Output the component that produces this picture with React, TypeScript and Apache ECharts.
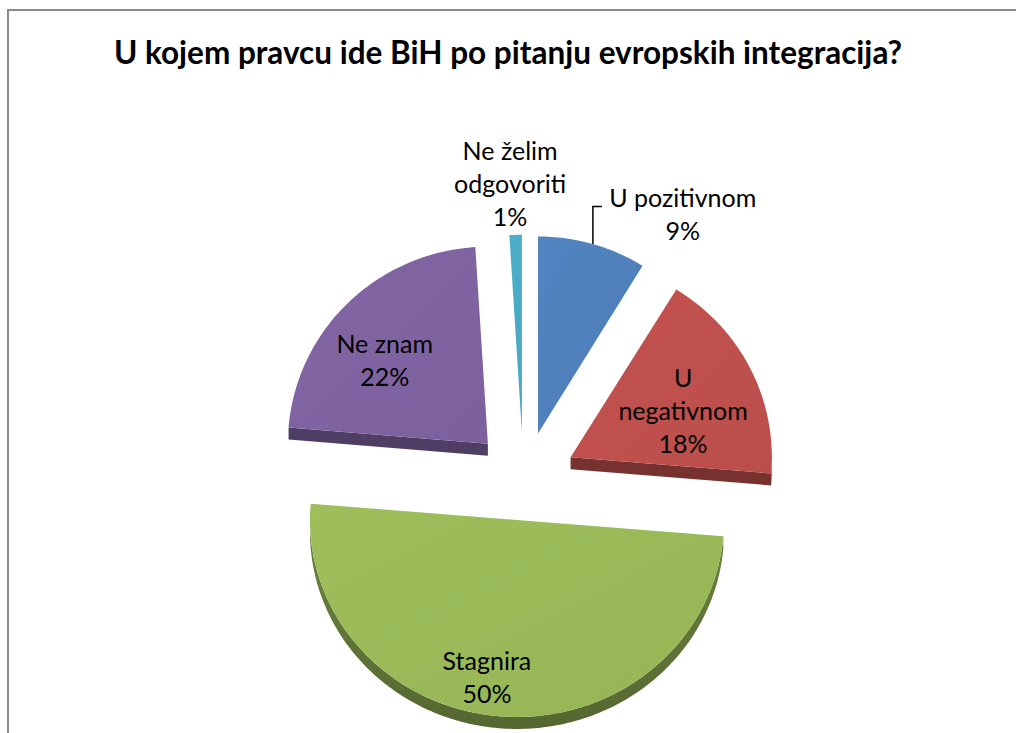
import React, { useEffect, useRef } from 'react';
import * as echarts from 'echarts';

const chartTitle = 'U kojem pravcu ide BiH po pitanju evropskih integracija?';
const categories = ['U pozitivnom', 'U negativnom', 'Stagnira', 'Ne znam', 'Ne želim odgovoriti'];
const labelNames = ['U pozitivnom', 'U\nnegativnom', 'Stagnira', 'Ne znam', 'Ne želim\nodgovoriti'];
const values = [9, 18, 50, 22, 1];
const sliceColors = ['#4f81bd', '#c0504d', '#9bbb59', '#8064a2', '#4bacc6'];

// label placement relative to each slice's apex: direction (deg, clockwise from 12 o'clock) and distance (px)
const labelAngles = [33.4, 67.3, 190.9, 309.1, -2.7];
const labelDistances = [263, 122, 159, 133, 249];
const leaderLines = [true, false, false, false, false];

// pie geometry
const CX = 523.5;
const CY = 476;
const EXPLODE_X = 52;
const EXPLODE_Y = 44.3;
const RX = 203;
const RY = 197;
const DEPTH = 12;
const FONT = 'Lato, "Open Sans", sans-serif';

const rad = (d: number) => (d * Math.PI) / 180;
const warp = (t: number) => t - 2.5 * Math.pow(Math.sin(rad(t)), 2);

function shade(hex: string, f: number) {
  const n = parseInt(hex.slice(1), 16);
  const c = (x: number) => Math.min(255, Math.round(x * f));
  return `rgb(${c((n >> 16) & 255)},${c((n >> 8) & 255)},${c(n & 255)})`;
}

export default function App() {
  const ref = useRef<HTMLDivElement>(null);
  useEffect(() => {
    if (!ref.current) return;
    const chart = echarts.init(ref.current, undefined, { renderer: 'svg' });
    const total = values.reduce((a, b) => a + b, 0);

    const renderItem = (params: any, api: any) => {
      const i = params.dataIndex;
      const v = api.value(1);
      let cum = 0;
      for (let j = 0; j < i; j++) cum += values[j];
      const t0 = (cum / total) * 360;
      const t1 = ((cum + v) / total) * 360;
      const tm = (t0 + t1) / 2;
      const ax = CX + EXPLODE_X * Math.sin(rad(tm));
      const ay = CY - EXPLODE_Y * Math.cos(rad(tm));
      const rx = RX * (1 - 0.02 * Math.cos(rad(tm)));
      const pt = (t: number): [number, number] => {
        const w = rad(warp(t));
        return [ax + rx * Math.sin(w), ay - RY * Math.cos(w)];
      };
      const arcPts = (a: number, b: number) => {
        const out: [number, number][] = [];
        const steps = Math.max(2, Math.ceil(b - a));
        for (let k = 0; k <= steps; k++) out.push(pt(a + ((b - a) * k) / steps));
        return out;
      };
      const arc = arcPts(t0, t1);
      const down = (p: [number, number]): [number, number] => [p[0], p[1] + DEPTH];
      const color = sliceColors[i];
      const children: any[] = [];
      const apex: [number, number] = [ax, ay];
      const dark = shade(color, 0.62);
      // visible part of the outer side (front half of the rim)
      const s0 = Math.max(t0, 90);
      const s1 = Math.min(t1, 270);
      if (s1 > s0) {
        const rim = arcPts(s0, s1);
        children.push({
          type: 'polygon',
          shape: { points: [...rim, ...rim.slice().reverse().map(down)] },
          style: {
            fill: {
              type: 'linear', x: 0, y: 0, x2: 0, y2: 1,
              colorStops: [
                { offset: 0, color: shade(color, 0.7) },
                { offset: 1, color: shade(color, 0.55) },
              ],
            },
          },
        });
      }
      // radial side faces facing the viewer
      const p0 = arc[0];
      const p1 = arc[arc.length - 1];
      if (-Math.cos(rad(t1 + 90)) > 0.8) {
        children.push({
          type: 'polygon',
          shape: { points: [apex, p1, down(p1), down(apex)] },
          style: { fill: dark },
        });
      }
      if (-Math.cos(rad(t0 - 90)) > 0.8) {
        children.push({
          type: 'polygon',
          shape: { points: [apex, p0, down(p0), down(apex)] },
          style: { fill: dark },
        });
      }
      // top face
      children.push({
        type: 'polygon',
        shape: { points: [apex, ...arc] },
        style: {
          fill: {
            type: 'linear',
            x: 0, y: 0, x2: 1, y2: 1,
            colorStops: [
              { offset: 0, color: shade(color, 1.02) },
              { offset: 1, color: shade(color, 0.97) },
            ],
          },
        },
      });
      // label
      const la = rad(labelAngles[i]);
      const lx = ax + labelDistances[i] * Math.sin(la);
      const ly = ay - labelDistances[i] * Math.cos(la);
      const text = `${labelNames[i]}\n${v}%`;
      const nLines = text.split('\n').length;
      const lineH = 33;
      children.push({
        type: 'text',
        x: lx,
        y: ly,
        style: {
          text,
          fill: '#000',
          font: `25px ${FONT}`,
          align: 'center',
          verticalAlign: 'middle',
          lineHeight: lineH,
        },
      });
      if (leaderLines[i]) {
        const m = pt(tm);
        const firstY = ly - ((nLines - 1) * lineH) / 2 + 9;
        children.push({
          type: 'polyline',
          shape: { points: [m, [m[0], firstY], [m[0] + 9, firstY]] },
          style: { stroke: '#000', lineWidth: 1.5, fill: 'none' },
        });
      }
      return { type: 'group', children };
    };

    chart.setOption({
      animation: false,
      backgroundColor: '#fff',
      title: {
        text: chartTitle,
        left: 'center',
        top: 29,
        textStyle: { fontFamily: FONT, fontSize: 31.5, fontWeight: 'bold', color: '#000', lineHeight: 36 },
      },
      graphic: [
        {
          type: 'rect',
          shape: { x: 8, y: 10, width: 1100, height: 1000 },
          style: { fill: 'none', stroke: '#8a8a8a', lineWidth: 2 },
          silent: true,
        },
      ],
      series: [
        {
          type: 'custom',
          name: 'BiH',
          coordinateSystem: 'none',
          data: values.map((v, i) => ({ name: categories[i], value: [i, v] })),
          renderItem,
        },
      ],
    });
    return () => chart.dispose();
  }, []);
  return <div ref={ref} style={{ position: 'absolute', left: 0, top: 0, width: 1016, height: 733 }} />;
}
